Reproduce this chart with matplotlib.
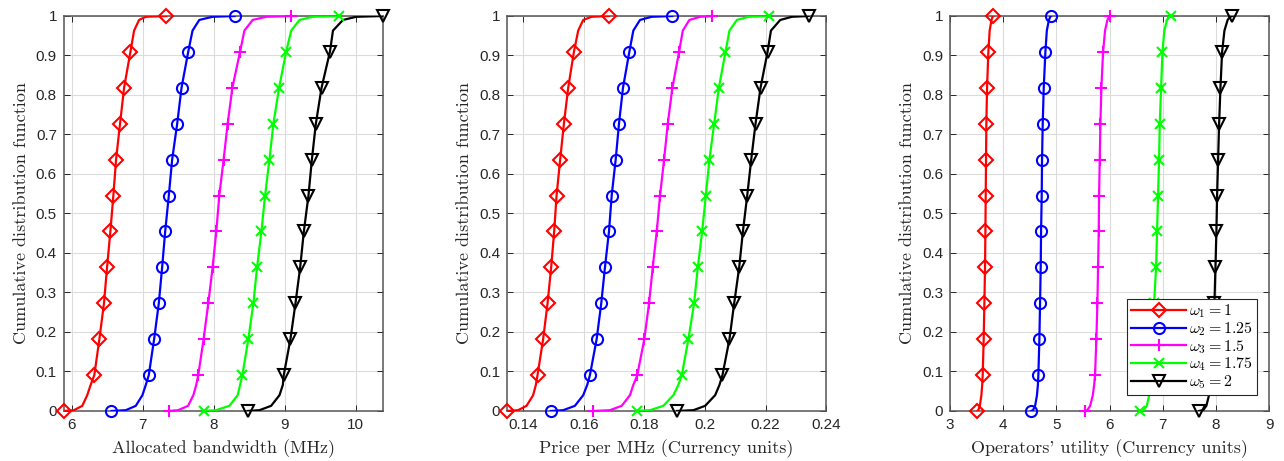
import numpy as np
import matplotlib.pyplot as plt
from matplotlib.lines import Line2D

# --- CDF of bandwidth / price / utility for 5 omega values ---
# markers sit on 12 evenly spaced CDF levels, line has some extra tail points

cdf_levels = np.arange(12) / 11
low_levels = [0.002, 0.013, 0.04, 0.066]
high_levels = [0.963, 0.99, 0.998]

labels = [r'$\omega_1 = 1$', r'$\omega_2 = 1.25$', r'$\omega_3 = 1.5$',
          r'$\omega_4 = 1.75$', r'$\omega_5 = 2$']
colors = ['#ff0000', '#0000ff', '#ff00ff', '#00ff00', '#000000']
markers = ['D', 'o', '+', 'x', 'v']
msizes = [7, 8, 9, 7, 9]

# 1. allocated bandwidth (MHz)
bw_marks = [
    [5.892, 6.32, 6.391, 6.456, 6.499, 6.546, 6.588, 6.626, 6.682, 6.739, 6.828, 7.336],
    [6.56, 7.087, 7.162, 7.228, 7.275, 7.318, 7.369, 7.416, 7.487, 7.548, 7.642, 8.296],
    [7.365, 7.784, 7.859, 7.925, 7.986, 8.038, 8.08, 8.141, 8.198, 8.264, 8.372, 9.092],
    [7.868, 8.405, 8.489, 8.56, 8.612, 8.673, 8.725, 8.786, 8.842, 8.922, 9.021, 9.769],
    [8.48, 8.988, 9.082, 9.153, 9.219, 9.271, 9.336, 9.384, 9.44, 9.52, 9.638, 10.386],
]
bw_low = [
    [6.032, 6.15, 6.22, 6.268],
    [6.763, 6.904, 6.997, 7.045],
    [7.50, 7.64, 7.715, 7.755],
    [8.034, 8.222, 8.339, 8.373],
    [8.645, 8.81, 8.928, 8.975],
]
bw_high = [
    [6.88, 6.95, 7.045],
    [7.703, 7.798, 7.986],
    [8.434, 8.55, 8.74],
    [9.093, 9.21, 9.398],
    [9.681, 9.822, 10.01],
]

# 2. price per MHz
price_marks = [
    [0.1347, 0.14476, 0.14661, 0.14807, 0.14926, 0.15025, 0.15104, 0.15223, 0.15346, 0.15488, 0.15676, 0.16833],
    [0.14916, 0.16205, 0.16427, 0.16579, 0.16701, 0.16834, 0.16923, 0.17055, 0.17164, 0.17296, 0.17505, 0.18926],
    [0.16314, 0.17769, 0.18, 0.18156, 0.18278, 0.1841, 0.18519, 0.18652, 0.18774, 0.18926, 0.19147, 0.20248],
    [0.17749, 0.19237, 0.19455, 0.19643, 0.19766, 0.19908, 0.2003, 0.20149, 0.20305, 0.2046, 0.20678, 0.221],
    [0.19081, 0.20579, 0.2081, 0.20966, 0.21131, 0.21254, 0.21396, 0.21528, 0.2167, 0.21835, 0.22067, 0.23422],
]
price_low = [
    [0.13835, 0.14112, 0.14331, 0.1442],
    [0.15322, 0.15709, 0.15984, 0.16116],
    [0.16866, 0.17253, 0.17527, 0.17637],
    [0.18189, 0.18628, 0.18959, 0.19124],
    [0.1962, 0.20007, 0.20338, 0.2048],
]
price_high = [
    [0.15818, 0.15984, 0.16261],
    [0.17637, 0.17858, 0.18245],
    [0.1927, 0.19488, 0.19842],
    [0.2081, 0.21055, 0.21438],
    [0.22179, 0.22487, 0.22873],
]

# 3. operators' utility
util_marks = [
    [3.514, 3.614, 3.633, 3.646, 3.658, 3.665, 3.671, 3.677, 3.683, 3.696, 3.721, 3.815],
    [4.524, 4.661, 4.680, 4.693, 4.705, 4.712, 4.724, 4.730, 4.743, 4.762, 4.793, 4.9],
    [5.539, 5.727, 5.752, 5.771, 5.784, 5.796, 5.803, 5.815, 5.828, 5.846, 5.878, 6.016],
    [6.58, 6.80, 6.82, 6.837, 6.875, 6.893, 6.912, 6.931, 6.944, 6.969, 6.994, 7.15],
    [7.68, 7.93, 7.955, 7.972, 7.991, 8.009, 8.022, 8.041, 8.06, 8.085, 8.116, 8.31],
]
util_low = [
    [3.53, 3.56, 3.59, 3.605],
    [4.56, 4.60, 4.635, 4.652],
    [5.58, 5.635, 5.685, 5.71],
    [6.64, 6.70, 6.745, 6.78],
    [7.76, 7.82, 7.87, 7.91],
]
util_high = [
    [3.745, 3.78, 3.80],
    [4.82, 4.86, 4.885],
    [5.915, 5.96, 5.99],
    [7.03, 7.08, 7.11],
    [8.16, 8.22, 8.265],
]

panels = [
    (bw_marks, bw_low, bw_high, 'Allocated bandwidth (MHz)',
     [6, 7, 8, 9, 10], ['6', '7', '8', '9', '10'], None),
    (price_marks, price_low, price_high, 'Price per MHz (Currency units)',
     [0.14, 0.16, 0.18, 0.2, 0.22, 0.24], ['0.14', '0.16', '0.18', '0.2', '0.22', '0.24'], 0.24),
    (util_marks, util_low, util_high, "Operators' utility (Currency units)",
     [3, 4, 5, 6, 7, 8, 9], ['3', '4', '5', '6', '7', '8', '9'], 9),
]

plt.rcParams['mathtext.fontset'] = 'cm'
plt.rcParams['font.family'] = 'Liberation Sans'
plt.rcParams['axes.unicode_minus'] = False

fig = plt.figure(figsize=(12.84, 4.61), dpi=100)
lefts = [0.0498, 0.3949, 0.7399]
label_font = dict(family='cmr10', size=13)

for p, (marks, low, high, xlabel, xt, xtl, xmax) in enumerate(panels):
    ax = fig.add_axes([lefts[p], 0.1085, 0.2485, 0.8568])
    for i in range(5):
        m = marks[i]
        xs = [m[0]] + low[i] + m[1:11] + high[i] + [m[11]]
        ys = [0] + low_levels + list(cdf_levels[1:11]) + high_levels + [1]
        ax.plot(xs, ys, color=colors[i], lw=1.6, zorder=3)
        ax.plot(m, cdf_levels, ls='none', marker=markers[i], ms=msizes[i],
                mfc='none', mec=colors[i], mew=1.5, zorder=4, clip_on=False)

    allx = [v for m in marks for v in m]
    ax.set_xlim(min(allx) if p < 2 else 3, xmax if xmax else max(allx))
    ax.set_ylim(0, 1)
    ax.set_xticks(xt)
    ax.set_xticklabels(xtl)
    ax.set_yticks(np.round(np.arange(0, 1.01, 0.1), 1))
    ax.set_yticklabels(['0', '0.1', '0.2', '0.3', '0.4', '0.5', '0.6', '0.7', '0.8', '0.9', '1'])
    ax.tick_params(direction='in', top=True, right=True, length=4, width=0.7,
                   labelsize=11, colors='#262626', pad=5)
    ax.grid(True, color='#dcdcdc', lw=0.8, zorder=0)
    ax.set_axisbelow(True)
    for s in ax.spines.values():
        s.set_color('#555555')
        s.set_linewidth(1.1)
    ax.set_xlabel(xlabel, fontdict=label_font, color='#262626', labelpad=5)
    ax.set_ylabel('Cumulative distribution function', fontdict=label_font,
                  color='#262626', labelpad=5)

    if p == 2:
        handles = [Line2D([], [], color=colors[i], lw=1.6, marker=markers[i], ms=msizes[i],
                          mfc='none', mec=colors[i], mew=1.5) for i in range(5)]
        leg = ax.legend(handles, labels, loc='lower right', fontsize=11.5, handlelength=3.4,
                        fancybox=False, framealpha=1, edgecolor='#262626',
                        bbox_to_anchor=(0.962, 0.04), borderaxespad=0,
                        labelspacing=0.0, handletextpad=0.2, borderpad=0.25)
        leg.get_frame().set_linewidth(0.8)
        leg.set_zorder(10)

plt.savefig('out.png', dpi=100)
